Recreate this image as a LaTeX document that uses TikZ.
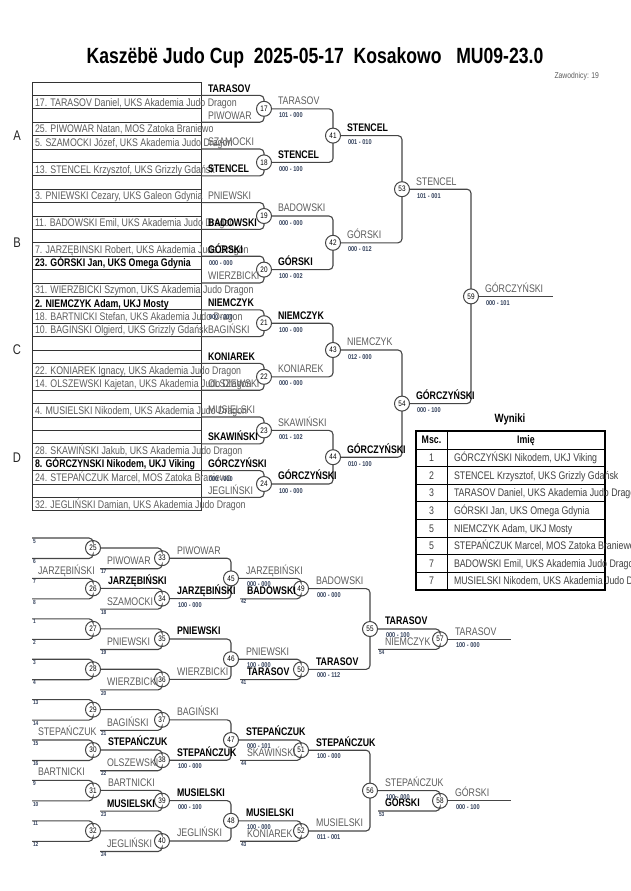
\documentclass[tikz,border=0pt]{standalone}
\usepackage{fontspec}
\setmainfont{Liberation Sans}[FakeStretch=0.8]
\usetikzlibrary{positioning}
\definecolor{linegray}{HTML}{454545}
\definecolor{namegray}{HTML}{5C5C5C}
\definecolor{scoreblue}{HTML}{33415C}

\begin{document}
\begin{tikzpicture}[
    x=1pt, y=-1pt,
    every node/.style={inner sep=0pt, outer sep=0pt},
    bk/.style={draw=linegray, line width=1.1pt, rounded corners=4pt},
    row/.style={draw=black!80, line width=0.9pt},
    fight/.style={circle, draw=linegray, line width=1pt, fill=white,
                  minimum size=15pt, font=\fontsize{8}{8}\selectfont},
    nm/.style={anchor=west, text height=7.9pt, text depth=0pt,
               font=\fontsize{11}{11}\selectfont, text=namegray},
    win/.style={nm, text=black, font=\fontsize{11}{11}\selectfont\bfseries},
    sc/.style={anchor=west, text height=5pt, text depth=0pt,
               font=\fontsize{7}{7}\selectfont\bfseries, text=scoreblue},
    entry/.style={anchor=west, text height=7.8pt, text depth=0pt,
                  font=\fontsize{11}{11}\selectfont, text=namegray},
    bentry/.style={entry, text=black, font=\fontsize{11}{11}\selectfont\bfseries},
    seed/.style={anchor=north west, inner sep=1pt,
                 font=\fontsize{6}{6}\selectfont\bfseries, text=scoreblue},
    cell/.style={text height=7.5pt, text depth=0pt,
                 font=\fontsize{11}{11}\selectfont, text=black!75}
]
\useasboundingbox (0,0) rectangle (630,891);

% header
\node[font=\fontsize{22}{22}\selectfont\bfseries] (title) at (315,58)
    {Kaszëbë Judo Cup\ \ 2025-05-17\ \ Kosakowo\ \ \ MU09-23.0};
\node[anchor=east, font=\fontsize{8.5}{8.5}\selectfont, text=namegray] (count) at (599,76) {Zawodnicy: 19};

% draw list
\foreach \i in {1,...,32} {
    \draw[row] (32,{82+13.4*(\i-1)}) rectangle (201,{82+13.4*\i});
    \coordinate (r\i) at (201,{82+13.4*\i});
}
\foreach \i/\t in {2/{17. TARASOV Daniel, UKS Akademia Judo Dragon},
                   4/{25. PIWOWAR Natan, MOS Zatoka Braniewo},
                   5/{5. SZAMOCKI Józef, UKS Akademia Judo Dragon},
                   7/{13. STENCEL Krzysztof, UKS Grizzly Gdańsk},
                   9/{3. PNIEWSKI Cezary, UKS Galeon Gdynia},
                   11/{11. BADOWSKI Emil, UKS Akademia Judo Dragon},
                   13/{7. JARZĘBINSKI Robert, UKS Akademia Judo Dragon},
                   16/{31. WIERZBICKI Szymon, UKS Akademia Judo Dragon},
                   18/{18. BARTNICKI Stefan, UKS Akademia Judo Dragon},
                   19/{10. BAGINSKI Olgierd, UKS Grizzly Gdańsk},
                   22/{22. KONIAREK Ignacy, UKS Akademia Judo Dragon},
                   23/{14. OLSZEWSKI Kajetan, UKS Akademia Judo Dragon},
                   25/{4. MUSIELSKI Nikodem, UKS Akademia Judo Dragon},
                   28/{28. SKAWIŃSKI Jakub, UKS Akademia Judo Dragon},
                   30/{24. STEPAŃCZUK Marcel, MOS Zatoka Braniewo},
                   32/{32. JEGLIŃSKI Damian, UKS Akademia Judo Dragon}}
    \node[entry] (e\i) at (35,{82+13.4*\i-6.7}) {\t};
\foreach \i/\t in {14/{23. GÓRSKI Jan, UKS Omega Gdynia},
                   17/{2. NIEMCZYK Adam, UKJ Mosty},
                   29/{8. GÓRCZYNSKI Nikodem, UKJ Viking}}
    \node[bentry] (e\i) at (35,{82+13.4*\i-6.7}) {\t};

% pools
\foreach \q/\y in {A/135.6, B/242.8, C/350, D/457.2}
    \node[font=\fontsize{14}{14}\selectfont, text=black!85] (pool\q) at (17,\y) {\q};

% main bracket
\foreach \n [count=\k from 0] in {17,...,24}
    \node[fight] (m\n) at (264,{108.8+53.6*\k}) {\n};
\foreach \n [count=\k from 0] in {41,...,44}
    \node[fight] (m\n) at (333,{135.6+107.2*\k}) {\n};
\node[fight] (m53) at (402,189.2) {53};
\node[fight] (m54) at (402,403.6) {54};
\node[fight] (m59) at (471,296.4) {59};
\coordinate (fin) at (553,296.4);

\foreach \n [count=\k from 0] in {17,...,24} {
    \pgfmathtruncatemacro\a{4*\k+1}
    \pgfmathtruncatemacro\b{4*\k+3}
    \draw[bk] (r\a) -| (m\n);
    \draw[bk] (r\b) -| (m\n);
}
\foreach \a/\b/\c in {17/18/41, 19/20/42, 21/22/43, 23/24/44, 41/42/53, 43/44/54, 53/54/59} {
    \draw[bk] (m\a) -| (m\c);
    \draw[bk] (m\b) -| (m\c);
}
\draw[bk] (m59) -- (fin);

% names on first round
\foreach \y/\s/\t [count=\i] in {88.4/win/TARASOV, 115.2/nm/PIWOWAR, 142/nm/SZAMOCKI,
        168.8/win/STENCEL, 195.6/nm/PNIEWSKI, 222.4/win/BADOWSKI, 249.2/win/GÓRSKI,
        276/nm/WIERZBICKI, 302.8/win/NIEMCZYK, 329.6/nm/BAGIŃSKI, 356.4/win/KONIAREK,
        383.2/nm/OLSZEWSKI, 410/nm/MUSIELSKI, 436.8/win/SKAWIŃSKI, 463.6/win/GÓRCZYŃSKI,
        490.4/nm/JEGLIŃSKI}
    \node[\s] (f\i) at (208,\y) {\t};
\foreach \y [count=\i] in {263, 317, 478.6}
    \node[sc] (fs\i) at (209,\y) {000 - 000};

% winners of the main bracket
\foreach \n/\s/\t/\r in {17/nm/TARASOV/101 - 000, 18/win/STENCEL/000 - 100,
        19/nm/BADOWSKI/000 - 000, 20/win/GÓRSKI/100 - 002,
        21/win/NIEMCZYK/100 - 000, 22/nm/KONIAREK/000 - 000,
        23/nm/SKAWIŃSKI/001 - 102, 24/win/GÓRCZYŃSKI/100 - 000,
        41/win/STENCEL/001 - 010, 42/nm/GÓRSKI/000 - 012,
        43/nm/NIEMCZYK/012 - 000, 44/win/GÓRCZYŃSKI/010 - 100,
        53/nm/STENCEL/101 - 001, 54/win/GÓRCZYŃSKI/000 - 100,
        59/nm/GÓRCZYŃSKI/000 - 101} {
    \node[\s] (w\n) at ([shift={(14,-8)}]m\n.center) {\t};
    \node[sc] (s\n) at ([shift={(15,6.5)}]m\n.center) {\r};
}

% results
\node[font=\fontsize{12}{12}\selectfont\bfseries] (wyniki) at (510,419) {Wyniki};
\draw[line width=1.5pt] (416,431) rectangle (605,590);
\draw[line width=0.8pt] (416,449) -- (605,449);
\draw[line width=0.8pt] (447,431) -- (447,590);
\foreach \i in {1,...,7}
    \draw[line width=0.8pt] (416,{449+17.625*\i}) -- (605,{449+17.625*\i});
\node[cell, font=\fontsize{11}{11}\selectfont\bfseries, text=black] (hmsc) at (431.5,440) {Msc.};
\node[cell, font=\fontsize{11}{11}\selectfont\bfseries, text=black] (himie) at (526,440) {Imię};
\foreach \p/\t [count=\i] in {1/{GÓRCZYŃSKI Nikodem, UKJ Viking},
        2/{STENCEL Krzysztof, UKS Grizzly Gdańsk},
        3/{TARASOV Daniel, UKS Akademia Judo Dragon},
        3/{GÓRSKI Jan, UKS Omega Gdynia},
        5/{NIEMCZYK Adam, UKJ Mosty},
        5/{STEPAŃCZUK Marcel, MOS Zatoka Braniewo},
        7/{BADOWSKI Emil, UKS Akademia Judo Dragon},
        7/{MUSIELSKI Nikodem, UKS Akademia Judo Dragon}} {
    \node[cell] (pl\i) at (431.5,{449+17.625*(\i-0.5)}) {\p};
    \node[cell, anchor=west] (pn\i) at (454,{449+17.625*(\i-0.5)}) {\t};
}

% repechage
\foreach \n [count=\k from 0] in {25,...,32}
    \node[fight] (c\n) at (93,{548+40.4*\k}) {\n};
\foreach \n [count=\k from 0] in {33,...,40}
    \node[fight] (c\n) at (162,{558.2+40.4*\k}) {\n};
\node[fight] (c45) at (231,578.4) {45};
\node[fight] (c46) at (231,659.2) {46};
\node[fight] (c47) at (231,740) {47};
\node[fight] (c48) at (231,820.8) {48};
\node[fight] (c49) at (301,588.6) {49};
\node[fight] (c50) at (301,669.4) {50};
\node[fight] (c51) at (301,750.2) {51};
\node[fight] (c52) at (301,831) {52};
\node[fight] (c55) at (370,629) {55};
\node[fight] (c56) at (370,790.6) {56};
\node[fight] (c57) at (440,639.2) {57};
\node[fight] (c58) at (440,800.8) {58};

% first column: seeds from the left
\foreach \n/\u/\l [count=\k from 0] in {25/5/6, 26/7/8, 27/1/2, 28/3/4,
                                        29/13/14, 30/15/16, 31/9/10, 32/11/12} {
    \coordinate (qa\n) at (32,{538+40.4*\k});
    \coordinate (qb\n) at (32,{558.5+40.4*\k});
    \draw[bk] (qa\n) -| (c\n);
    \draw[bk] (qb\n) -| (c\n);
    \node[seed] (na\n) at (qa\n) {\u};
    \node[seed] (nb\n) at (qb\n) {\l};
}
% second column
\foreach \a/\c/\l [count=\k from 0] in {25/33/17, 26/34/18, 27/35/19, 28/36/20,
                                        29/37/21, 30/38/22, 31/39/23, 32/40/24} {
    \coordinate (qb\c) at (100,{568.7+40.4*\k});
    \draw[bk] (c\a) -| (c\c);
    \draw[bk] (qb\c) -| (c\c);
    \node[seed] (nb\c) at (qb\c) {\l};
}
\foreach \a/\b/\c in {33/34/45, 35/36/46, 37/38/47, 39/40/48, 49/50/55, 51/52/56}{
    \draw[bk] (c\a) -| (c\c);
    \draw[bk] (c\b) -| (c\c);
}
% later columns with losers from the main bracket
\foreach \a/\c/\l/\x/\y in {45/49/42/240/598.8, 46/50/41/240/679.6, 47/51/44/240/760.4,
                            48/52/43/240/841.2, 55/57/54/378/649.4, 56/58/53/378/811} {
    \coordinate (qb\c) at (\x,\y);
    \draw[bk] (c\a) -| (c\c);
    \draw[bk] (qb\c) -| (c\c);
    \node[seed] (nb\c) at (qb\c) {\l};
}
\coordinate (end57) at (511,639.2);
\coordinate (end58) at (511,800.8);
\draw[bk] (c57) -- (end57);
\draw[bk] (c58) -- (end58);

% names coming in
\foreach \x/\y/\s/\t [count=\i] in {38/571/nm/JARZĘBIŃSKI, 38/732/nm/STEPAŃCZUK, 38/772/nm/BARTNICKI,
        107/560.7/nm/PIWOWAR, 107/601.1/nm/SZAMOCKI, 107/641.5/nm/PNIEWSKI,
        107/681.9/nm/WIERZBICKI, 107/722.3/nm/BAGIŃSKI, 107/762.7/nm/OLSZEWSKI,
        107/803.1/win/MUSIELSKI, 107/843.5/nm/JEGLIŃSKI,
        247/590.8/win/BADOWSKI, 247/671.6/win/TARASOV, 247/752.4/nm/SKAWIŃSKI,
        247/833.2/nm/KONIAREK, 385/641.4/nm/NIEMCZYK, 385/803/win/GÓRSKI}
    \node[\s] (in\i) at (\x,\y) {\t};

% winners of the repechage
\foreach \n/\s/\t/\r in {26/win/JARZĘBIŃSKI/, 30/win/STEPAŃCZUK/, 31/nm/BARTNICKI/,
        33/nm/PIWOWAR/, 34/win/JARZĘBIŃSKI/100 - 000, 35/win/PNIEWSKI/,
        36/nm/WIERZBICKI/, 37/nm/BAGIŃSKI/, 38/win/STEPAŃCZUK/100 - 000,
        39/win/MUSIELSKI/000 - 100, 40/nm/JEGLIŃSKI/,
        45/nm/JARZĘBIŃSKI/000 - 000, 46/nm/PNIEWSKI/100 - 000,
        47/win/STEPAŃCZUK/000 - 101, 48/win/MUSIELSKI/100 - 000,
        49/nm/BADOWSKI/000 - 000, 50/win/TARASOV/000 - 112,
        51/win/STEPAŃCZUK/100 - 000, 52/nm/MUSIELSKI/011 - 001,
        55/win/TARASOV/000 - 100, 56/nm/STEPAŃCZUK/100 - 000,
        57/nm/TARASOV/100 - 000, 58/nm/GÓRSKI/000 - 100} {
    \node[\s] (v\n) at ([shift={(15,-8)}]c\n.center) {\t};
    \node[sc] (t\n) at ([shift={(16,6)}]c\n.center) {\r};
}
\end{tikzpicture}
\end{document}
